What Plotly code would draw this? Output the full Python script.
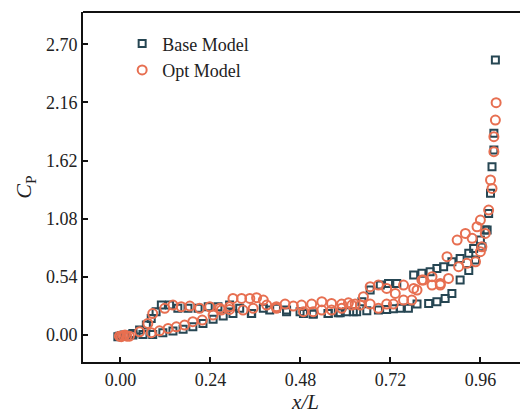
import plotly.graph_objects as go

# Base Model (squares)
base_x = [-0.007, -0.003, 0.003, 0.01, 0.033, 0.051, 0.069, 0.082, 0.095, 0.109, 0.131, 0.153, 0.18, 0.207,
          0.234, 0.26, 0.291, 0.318, 0.349, 0.381, 0.416, 0.443, 0.479, 0.514, 0.554, 0.586, 0.621, 0.644,
          0.666, 0.693, 0.715, 0.737, 0.782, 0.804, 0.826, 0.844, 0.862, 0.884, 0.906, 0.929, 0.942, 0.96,
          0.973, 0.982, 0.987, 0.991, 0.996, 0.996, 1.0,
          0.978, 0.964, 0.947, 0.929, 0.906, 0.884, 0.866, 0.844, 0.822, 0.791, 0.768, 0.746, 0.728, 0.71,
          0.688, 0.657, 0.63, 0.603, 0.581, 0.554, 0.514, 0.488, 0.443, 0.398, 0.35, 0.3, 0.274, 0.247,
          0.22, 0.193, 0.167, 0.14, 0.113, 0.086, 0.06, 0.033]
base_y = [-0.015, -0.01, -0.005, 0.0, 0.015, 0.046, 0.093, 0.155, 0.217, 0.279, 0.279, 0.248, 0.248, 0.248,
          0.263, 0.263, 0.279, 0.248, 0.2, 0.248, 0.248, 0.232, 0.217, 0.195, 0.2, 0.207, 0.217, 0.31,
          0.418, 0.464, 0.48, 0.48, 0.557, 0.573, 0.588, 0.619, 0.635, 0.681, 0.712, 0.759, 0.805, 0.882,
          0.975, 1.13, 1.316, 1.563, 1.718, 1.873, 2.554,
          0.975, 0.82, 0.697, 0.6, 0.511, 0.387, 0.34, 0.31, 0.294, 0.288, 0.248, 0.248, 0.245, 0.238,
          0.232, 0.226, 0.217, 0.217, 0.207, 0.2, 0.195, 0.2, 0.217, 0.232, 0.2, 0.2, 0.176, 0.146,
          0.108, 0.077, 0.053, 0.037, 0.022, 0.006, 0.006, 0.0]

# Opt Model (circles)
opt_x = [-0.003, 0.002, 0.007, 0.012, 0.017, 0.051, 0.073, 0.086, 0.118, 0.14, 0.162, 0.185, 0.211, 0.238,
         0.265, 0.291, 0.3, 0.323, 0.345, 0.363, 0.381, 0.39, 0.416, 0.439, 0.461, 0.483, 0.51, 0.537,
         0.563, 0.59, 0.608, 0.626, 0.648, 0.666, 0.688, 0.71, 0.733, 0.755, 0.782, 0.804, 0.831, 0.853,
         0.871, 0.898, 0.92, 0.938, 0.951, 0.96, 0.982, 0.987, 0.991, 0.996, 0.996, 1.0, 1.002,
         0.973, 0.964, 0.96, 0.947, 0.924, 0.902, 0.875, 0.853, 0.831, 0.808, 0.791, 0.777, 0.755,
         0.728, 0.71, 0.688, 0.666, 0.64, 0.617, 0.59, 0.563, 0.537, 0.514, 0.488, 0.416, 0.354,
         0.327, 0.291, 0.269, 0.247, 0.218, 0.193, 0.171, 0.149, 0.127, 0.104, 0.082, 0.024]
opt_y = [-0.01, -0.015, -0.005, 0.0, -0.01, 0.031, 0.108, 0.2, 0.248, 0.279, 0.263, 0.269, 0.248, 0.263,
         0.248, 0.263, 0.34, 0.34, 0.34, 0.347, 0.325, 0.279, 0.248, 0.288, 0.269, 0.279, 0.288, 0.31,
         0.294, 0.288, 0.3, 0.288, 0.356, 0.449, 0.464, 0.433, 0.387, 0.464, 0.433, 0.511, 0.542, 0.464,
         0.728, 0.882, 0.944, 0.898, 1.006, 1.068, 1.161, 1.44, 1.362, 1.703, 1.842, 1.997, 2.158,
         0.944, 0.82, 0.774, 0.681, 0.666, 0.635, 0.526, 0.48, 0.464, 0.511, 0.418, 0.325, 0.325,
         0.288, 0.288, 0.248, 0.288, 0.279, 0.279, 0.248, 0.232, 0.232, 0.217, 0.217, 0.263, 0.248,
         0.232, 0.238, 0.232, 0.186, 0.139, 0.124, 0.093, 0.077, 0.062, 0.04, 0.022, -0.01]

x_ticks = [0.00, 0.24, 0.48, 0.72, 0.96]
y_ticks = [0.00, 0.54, 1.08, 1.62, 2.16, 2.70]

BASE_C = "#264653"
OPT_C = "#e76f51"
FONT = "Liberation Serif"

fig = go.Figure()
fig.add_trace(go.Scatter(x=base_x, y=base_y, mode="markers", name="Base Model",
                         marker=dict(symbol="square-open", size=7, color=BASE_C,
                                     line=dict(width=2, color=BASE_C))))
fig.add_trace(go.Scatter(x=opt_x, y=opt_y, mode="markers", name="Opt Model",
                         marker=dict(symbol="circle-open", size=9, color=OPT_C,
                                     line=dict(width=2, color=OPT_C))))

# page body has an 8px default margin, so the figure is offset by (8, 8)
fig.update_layout(
    width=520, height=406,
    margin=dict(l=75, r=0, t=4, b=52),
    paper_bgcolor="white", plot_bgcolor="white",
    font=dict(family=FONT, size=18, color="#222"),
    showlegend=True,
    legend=dict(x=0.088, y=0.962, xanchor="left", yanchor="top",
                bgcolor="rgba(0,0,0,0)", font=dict(size=18, family=FONT),
                itemwidth=30, tracegroupgap=0),
    xaxis=dict(range=[-0.1, 1.087], tickvals=x_ticks,
               ticktext=[f"{v:.2f}" for v in x_ticks],
               showgrid=False, zeroline=False, showline=True, linecolor="#111", linewidth=2,
               ticks="inside", ticklen=5, tickwidth=1.5, tickcolor="#111",
               tickfont=dict(size=18, family=FONT, color="#222"),
               title=dict(text="<i>x/L</i>", font=dict(size=21, family=FONT), standoff=2)),
    yaxis=dict(range=[-0.25, 3.0], tickvals=y_ticks,
               ticktext=[f"{v:.2f}" for v in y_ticks],
               showgrid=False, zeroline=False, showline=True, linecolor="#111", linewidth=2,
               ticks="inside", ticklen=5, tickwidth=1.5, tickcolor="#111",
               tickfont=dict(size=18, family=FONT, color="#222"),
               title=dict(text="<i>C</i><sub>P</sub>", font=dict(size=22, family=FONT), standoff=8)),
)
fig.add_shape(type="line", xref="paper", yref="paper", x0=0, x1=1, y0=1, y1=1,
              line=dict(color="#111", width=2))

fig.write_html("out.html")
